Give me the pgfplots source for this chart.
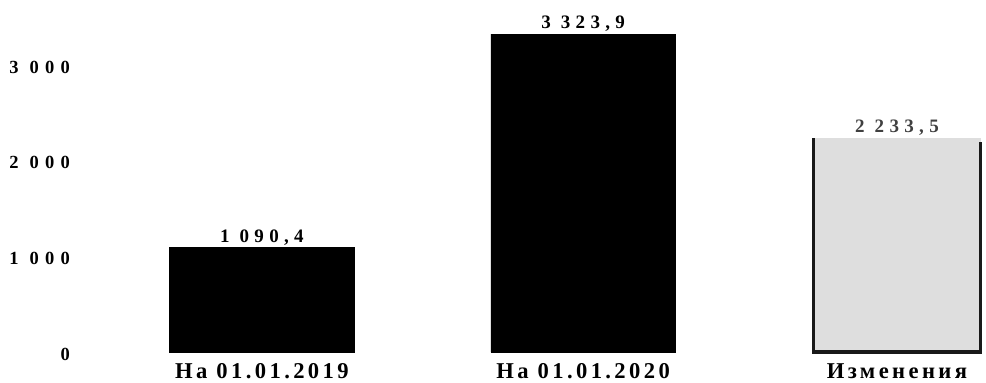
\documentclass[border=0pt]{standalone}
\usepackage{pgfplots}
\pgfplotsset{compat=1.18}
\usepackage{fontspec}
\setmainfont{Liberation Serif}
\newcommand\lblfont{\fontsize{19bp}{21bp}\selectfont\bfseries\addfontfeatures{LetterSpace=28}}
\newcommand\ylblfont{\fontsize{18.5bp}{20bp}\selectfont\bfseries\addfontfeatures{LetterSpace=34}}
\newcommand\xlblfont{\fontsize{22.6bp}{24bp}\selectfont\bfseries\addfontfeatures{LetterSpace=15}}
\begin{document}
\begin{tikzpicture}
\begin{axis}[
  scale only axis,
  width=906bp, height=330bp,
  xmin=-0.572, xmax=2.277,
  ymin=0, ymax=3450,
  axis lines=none,
  clip=false,
  bar width=0.58,
  xtick={0,1,2},
  ytick={0,1000,2000,3000},
]
\addplot[ybar, fill=black, draw=black, bar shift=0,
  nodes near coords, point meta=explicit symbolic,
  every node near coord/.append style={font=\lblfont, yshift=-1bp}] coordinates {(0,1090.4) [1 090,4] (1.01,3323.9) [3 323,9]};
\addplot[ybar, fill=black!13, draw=none, bar shift=0, bar width=0.528,
  nodes near coords, point meta=explicit symbolic,
  every node near coord/.append style={font=\lblfont, text=black!75, yshift=-1bp}] coordinates {(1.997,2233.5) [2 233,5]};
\addplot[black!90, line width=3bp, no markers] coordinates {(1.733,2233.5) (1.733,0) (2.261,0) (2.261,2200)};
% y tick labels
\foreach \v/\t in {0/0, 1000/1 000, 2000/2 000, 3000/3 000}{
  \edef\temp{\noexpand\node[anchor=east, font=\noexpand\ylblfont] at (axis cs:-0.572,\v) [xshift=-6.5bp, yshift=-2bp] {\t};}
  \temp
}
\foreach \x/\t in {0/На 01.01.2019, 1.01/На 01.01.2020, 1.997/Изменения}{
  \edef\temp{\noexpand\node[anchor=north, font=\noexpand\xlblfont] at (axis cs:\x,0) [yshift=-8bp] {\t};}
  \temp
}
\end{axis}
\path ([xshift=-80bp,yshift=-30bp]current axis.south west) rectangle ([yshift=22bp]current axis.north east);
\end{tikzpicture}
\end{document}
